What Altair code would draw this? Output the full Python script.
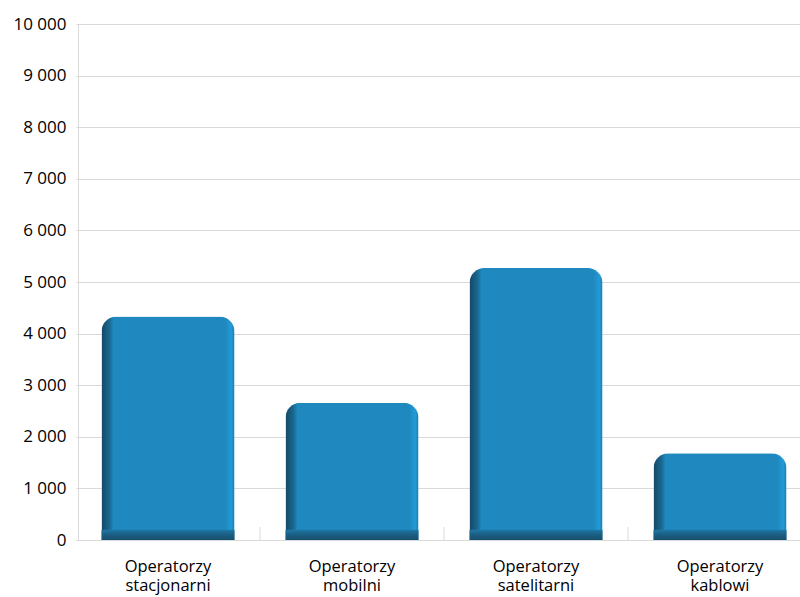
import altair as alt
import pandas as pd

categories = ["Operatorzy stacjonarni", "Operatorzy mobilni", "Operatorzy satelitarni", "Operatorzy kablowi"]
values = [4330, 2660, 5270, 1680]
y_ticks = list(range(0, 10001, 1000))
boundary_cats = categories[1:]

df = pd.DataFrame({"cat": categories, "value": values})
df_b = pd.DataFrame({"cat": boundary_cats})

FONT = "Open Sans"
GRID = "#d9d9d9"

x_enc = alt.X(
    "cat:N", sort=categories, title=None,
    scale=alt.Scale(range=[-2, 734], paddingInner=0.277, paddingOuter=0.1385),
    axis=alt.Axis(
        labelExpr="split(datum.label, ' ')", labelAngle=0, ticks=False,
        domainColor=GRID, labelFontSize=16.5, labelPadding=18, labelLineHeight=19,
        labelFont=FONT, labelColor="#000000", labelFontWeight=500,
    ),
)
y_enc = alt.Y(
    "value:Q", title=None,
    scale=alt.Scale(domain=[0, 10000]),
    axis=alt.Axis(
        values=y_ticks, labelExpr="replace(format(datum.value, ','), ',', ' ')",
        ticks=False, gridColor=GRID, domainColor=GRID, labelFontSize=17,
        labelPadding=12, labelFont=FONT, labelColor="#000000", labelFontWeight=500,
    ),
)

grad = alt.LinearGradient(
    gradient="linear", x1=0, x2=1, y1=0, y2=0,
    stops=[
        alt.GradientStop(color="#154764", offset=0),
        alt.GradientStop(color="#1a6891", offset=0.06),
        alt.GradientStop(color="#1f88be", offset=0.09),
        alt.GradientStop(color="#1f88be", offset=0.93),
        alt.GradientStop(color="#239bd8", offset=0.975),
        alt.GradientStop(color="#1c7fb2", offset=1),
    ],
)

bars = alt.Chart(df).mark_bar(
    cornerRadiusTopLeft=15, cornerRadiusTopRight=15, color=grad
).encode(x=x_enc, y=y_enc)

bottom_grad = alt.LinearGradient(
    gradient="linear", x1=0, x2=0, y1=0, y2=1,
    stops=[
        alt.GradientStop(color="#1e79a8", offset=0),
        alt.GradientStop(color="#1a5d82", offset=0.5),
        alt.GradientStop(color="#184f6e", offset=1),
    ],
)
bevel = alt.Chart(df).mark_bar(color=bottom_grad).encode(
    x=alt.X("cat:N", sort=categories),
    y=alt.datum(0),
    y2=alt.datum(200),
)

ticks = alt.Chart(df_b).mark_rule(color=GRID, strokeWidth=1, xOffset=-25.5).encode(
    x=alt.X("cat:N", sort=categories, bandPosition=0),
    y=alt.value(516),
    y2=alt.value(503),
)

chart = alt.layer(bars, bevel, ticks).properties(
    width=722, height=516,
    padding={"left": 78, "top": 24, "right": 0, "bottom": 57},
    autosize=alt.AutoSizeParams(type="none"),
).configure_view(stroke=None).configure(background="white")

chart.save("out.html", embed_options={"renderer": "svg", "actions": False})
